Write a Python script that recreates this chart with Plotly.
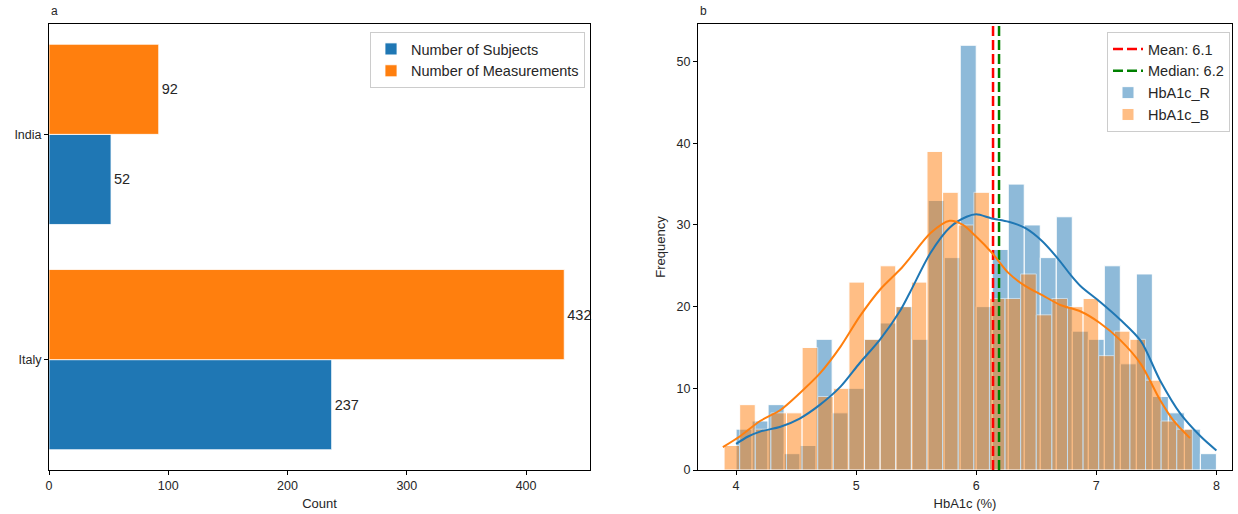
import numpy as np
import plotly.graph_objects as go

# ---------------- data ----------------
countries = ["Italy", "India"]
n_subjects = [237, 52]
n_measurements = [432, 92]

# HbA1c_R histogram (30 bins from 4.0 to 8.0)
r_bin_start = 4.0
r_bin_width = 4.0 / 30
r_counts = [5, 6, 8, 2, 3, 16, 7, 10, 16, 18, 20, 16, 33, 26, 52,
            20, 27, 35, 30, 26, 31, 17, 16, 25, 13, 24, 9, 7, 5, 2]

# HbA1c_B histogram (30 bins from 3.9 to 7.8)
b_bin_start = 3.9
b_bin_width = 0.13
b_counts = [3, 8, 5, 7, 7, 15, 9, 10, 23, 16, 25, 20, 23, 39, 34,
            30, 34, 21, 21, 24, 19, 21, 20, 21, 14, 17, 16, 11, 6, 5]

# KDE curves
kde_r_x = [4.00, 4.10, 4.20, 4.37, 4.53, 4.70, 4.87, 5.03, 5.20, 5.37, 5.45, 5.62, 5.78,
           5.92, 6.00, 6.13, 6.27, 6.41, 6.55, 6.69, 6.78, 6.87, 7.03, 7.20, 7.37, 7.53,
           7.70, 7.87, 8.00]
kde_r_y = [3.2, 4.1, 4.7, 5.3, 6.3, 8.0, 10.2, 13.1, 16.0, 19.6, 21.8, 26.6, 29.7,
           31.0, 31.3, 30.8, 30.4, 29.6, 28.0, 25.7, 24.0, 22.5, 20.6, 18.4, 15.8, 11.0,
           6.9, 4.1, 2.4]
kde_b_x = [3.89, 4.03, 4.20, 4.37, 4.53, 4.70, 4.87, 5.03, 5.20, 5.37, 5.45, 5.62,
           5.78, 5.89, 5.99, 6.13, 6.27, 6.41, 6.55, 6.70, 6.87, 7.03, 7.20, 7.37, 7.53,
           7.64, 7.78]
kde_b_y = [2.8, 4.1, 6.0, 7.35, 9.4, 11.85, 15.1, 18.8, 22.1, 24.6, 26.0, 29.0,
           30.5, 30.0, 28.7, 26.6, 24.1, 22.5, 21.4, 20.2, 19.4, 18.0, 15.9, 13.0, 8.6,
           6.1, 3.9]

mean_val = 6.14
median_val = 6.19
mean_label = "Mean: 6.1"
median_label = "Median: 6.2"

# ---------------- styling ----------------
W, H = 1238, 514
FONT = "Liberation Sans, Arial, sans-serif"
TXT = "#262626"
BLUE = "#1f77b4"
ORANGE = "#ff7f0e"

x1_dom = [49 / W, 590 / W]
x2_dom = [698 / W, 1232 / W]
y_dom = [1 - 470 / H, 1 - 24 / H]
y2_top = 54.6

fig = go.Figure()

# ---- panel a ----
fig.add_trace(go.Bar(
    y=countries, x=n_subjects, orientation="h", name="Number of Subjects",
    marker=dict(color=BLUE, line=dict(color="white", width=0.8)),
    text=n_subjects, textposition="outside", constraintext="none", cliponaxis=False,
    textfont=dict(size=14.5, color=TXT, family=FONT),
    xaxis="x", yaxis="y", legend="legend"))
fig.add_trace(go.Bar(
    y=countries, x=n_measurements, orientation="h", name="Number of Measurements",
    marker=dict(color=ORANGE, line=dict(color="white", width=0.8)),
    text=n_measurements, textposition="outside", constraintext="none", cliponaxis=False,
    textfont=dict(size=14.5, color=TXT, family=FONT),
    xaxis="x", yaxis="y", legend="legend"))

# ---- panel b ----
r_edges = r_bin_start + r_bin_width * np.arange(len(r_counts))
b_edges = b_bin_start + b_bin_width * np.arange(len(b_counts))

fig.add_trace(go.Scatter(
    x=[mean_val, mean_val], y=[0, y2_top], mode="lines", name=mean_label,
    line=dict(color="red", width=2.5, dash="10px,4px"),
    xaxis="x2", yaxis="y2", legend="legend2"))
fig.add_trace(go.Scatter(
    x=[median_val, median_val], y=[0, y2_top], mode="lines", name=median_label,
    line=dict(color="green", width=2.5, dash="10px,4px"),
    xaxis="x2", yaxis="y2", legend="legend2"))
fig.add_trace(go.Bar(
    x=r_edges, y=r_counts, width=r_bin_width, offset=0, name="HbA1c_R",
    marker=dict(color=BLUE, line=dict(color="white", width=1)), opacity=0.5,
    xaxis="x2", yaxis="y2", legend="legend2"))
fig.add_trace(go.Bar(
    x=b_edges, y=b_counts, width=b_bin_width, offset=0, name="HbA1c_B",
    marker=dict(color=ORANGE, line=dict(color="white", width=1)), opacity=0.5,
    xaxis="x2", yaxis="y2", legend="legend2"))
fig.add_trace(go.Scatter(
    x=kde_r_x, y=kde_r_y, mode="lines",
    line=dict(color=BLUE, width=2, shape="spline", smoothing=0.8),
    showlegend=False, xaxis="x2", yaxis="y2"))
fig.add_trace(go.Scatter(
    x=kde_b_x, y=kde_b_y, mode="lines",
    line=dict(color=ORANGE, width=2, shape="spline", smoothing=0.8),
    showlegend=False, xaxis="x2", yaxis="y2"))

axis_common = dict(
    showline=True, linecolor="black", linewidth=1, mirror=True,
    ticks="outside", ticklen=4, tickwidth=1, tickcolor="black",
    showgrid=False, zeroline=False,
    tickfont=dict(size=12.5, color=TXT, family=FONT),
    automargin=False,
)

fig.update_layout(
    width=W, height=H,
    margin=dict(l=0, r=0, t=0, b=0),
    paper_bgcolor="white", plot_bgcolor="white",
    barmode="group", bargap=0.2, bargroupgap=0,
    font=dict(family=FONT, color=TXT),
    xaxis=dict(domain=x1_dom, anchor="y", range=[0, 453.6],
               tickvals=[0, 100, 200, 300, 400],
               title=dict(text="Count", font=dict(size=13, color=TXT), standoff=6),
               **axis_common),
    yaxis=dict(domain=y_dom, anchor="x", type="category",
               categoryorder="array", categoryarray=countries,
               range=[-0.49, 1.49], **axis_common),
    xaxis2=dict(domain=x2_dom, anchor="y2", range=[3.683, 8.13],
                tickvals=[4, 5, 6, 7, 8],
                title=dict(text="HbA1c (%)", font=dict(size=13, color=TXT), standoff=6),
                **axis_common),
    yaxis2=dict(domain=y_dom, anchor="x2", range=[0, y2_top],
                tickvals=[0, 10, 20, 30, 40, 50],
                title=dict(text="Frequency", font=dict(size=13, color=TXT), standoff=8),
                **axis_common),
    legend=dict(x=585 / W, y=1 - 32 / H, xanchor="right", yanchor="top",
                bgcolor="white", bordercolor="#cccccc", borderwidth=1,
                font=dict(size=14.5, color=TXT, family=FONT), traceorder="normal"),
    legend2=dict(x=1230 / W, y=1 - 32 / H, xanchor="right", yanchor="top",
                 bgcolor="white", bordercolor="#cccccc", borderwidth=1,
                 font=dict(size=14.5, color=TXT, family=FONT), traceorder="normal"),
    annotations=[
        dict(text="a", x=49 / W, y=1 - 20 / H, xref="paper", yref="paper",
             xanchor="left", yanchor="bottom", showarrow=False,
             font=dict(size=12, color=TXT, family=FONT)),
        dict(text="b", x=698 / W, y=1 - 20 / H, xref="paper", yref="paper",
             xanchor="left", yanchor="bottom", showarrow=False,
             font=dict(size=12, color=TXT, family=FONT)),
    ],
)

fig.write_html("out.html", config={"displayModeBar": False},
               post_script="document.body.style.margin='0';")
